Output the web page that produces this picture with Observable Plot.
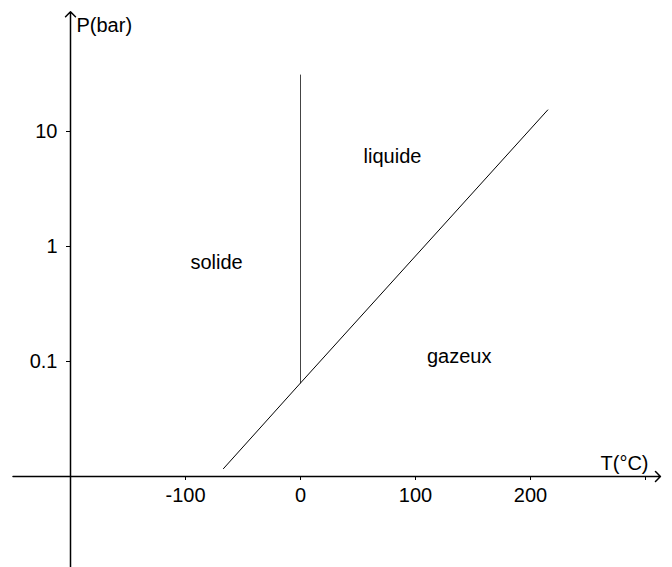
<!DOCTYPE html>
<html>
<head>
<meta charset="utf-8">
<script src="https://cdn.jsdelivr.net/npm/d3@7"></script>
<script src="https://cdn.jsdelivr.net/npm/@observablehq/plot@0.6"></script>
<style>
  html, body { margin: 0; padding: 0; background: #fff; }
  svg { display: block; }
</style>
</head>
<body>
<div id="chart"></div>
<script>
// Sublimation + vaporisation curve (one straight line in log scale)
const curveT = [-67, 0, 215];
const curveP = [0.0117, 0.065, 15.4];
// Fusion curve (vertical at 0 °C)
const fusionT = [0, 0];
const fusionP = [0.065, 31];
// Region labels
const regionNames = ["solide", "liquide", "gazeux"];
const regionT = [-73, 80, 138];
const regionP = [0.73, 6.1, 0.111];
// Axis ticks
const xTicks = [-100, 0, 100, 200, 300];
const xTickLabels = ["-100", "0", "100", "200", ""];
const yTicks = [0.1, 1, 10];
const yTickLabels = ["0.1", "1", "10"];
// Axis line extents
const axisT = [-250, 313];
const axisP = [0.0016, 110];

const curve = curveT.map((t, i) => ({T: t, P: curveP[i]}));
const fusion = fusionT.map((t, i) => ({T: t, P: fusionP[i]}));
const regions = regionNames.map((n, i) => ({name: n, T: regionT[i], P: regionP[i]}));

const FONT = 20;

const plot = Plot.plot({
  width: 672,
  height: 567,
  marginLeft: 70,
  marginRight: 27,
  marginTop: 16,
  marginBottom: 91,
  style: {fontFamily: "'Liberation Sans', Arial, sans-serif", background: "#fff", color: "#000"},
  x: {type: "linear", domain: [-200, 300]},
  y: {type: "log", domain: [0.01, 100]},
  marks: [
    // axis lines with arrows
    Plot.arrow([{}], {x1: () => axisT[0], x2: () => axisT[1], y1: () => 0.01, y2: () => 0.01,
      stroke: "#000", strokeWidth: 1.5, headLength: 7, headAngle: 90}),
    Plot.arrow([{}], {x1: () => -200, x2: () => -200, y1: () => axisP[0], y2: () => axisP[1],
      stroke: "#000", strokeWidth: 1.5, headLength: 7, headAngle: 90}),
    Plot.axisX({anchor: "bottom", ticks: xTicks, tickSize: 4, tickPadding: 7,
      tickFormat: (d) => xTickLabels[xTicks.indexOf(d)], fontSize: FONT, stroke: "#000", fill: "#000", label: null}),
    Plot.axisY({anchor: "left", ticks: yTicks, tickSize: 4, tickPadding: 9,
      tickFormat: (d) => yTickLabels[yTicks.indexOf(d)], fontSize: FONT, stroke: "#000", fill: "#000", label: null}),
    Plot.text(["P(bar)"], {frameAnchor: "top-left", dx: 6, dy: 1, lineAnchor: "top", textAnchor: "start", fontSize: FONT, fill: "#000"}),
    Plot.text(["T(°C)"], {frameAnchor: "bottom-right", dx: 3, dy: -7, lineAnchor: "bottom", textAnchor: "end", fontSize: FONT, fill: "#000"}),
    // phase boundaries
    Plot.line(fusion, {x: "T", y: "P", stroke: "#444", strokeWidth: 1}),
    Plot.line(curve, {x: "T", y: "P", stroke: "#000", strokeWidth: 1}),
    // region labels
    Plot.text(regions, {x: "T", y: "P", text: "name", fontSize: FONT, fill: "#000"})
  ]
});
document.getElementById("chart").appendChild(plot);
</script>
</body>
</html>
